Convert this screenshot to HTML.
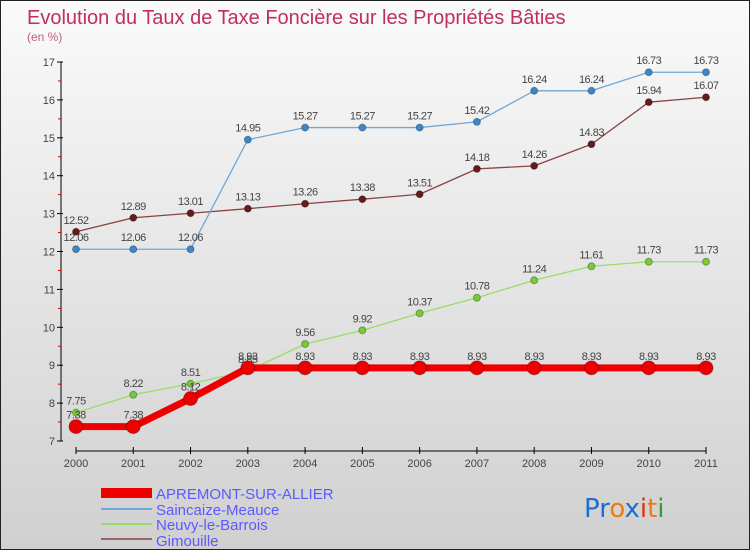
<!DOCTYPE html>
<html><head><meta charset="utf-8"><style>
body{margin:0}
#c{width:750px;height:550px;position:relative;box-sizing:border-box;border:1px solid #222;background:linear-gradient(#fafafa,#d0d0d0);font-family:"Liberation Sans",sans-serif;overflow:hidden}
</style></head><body>
<div id="c">
<svg id="s" width="750" height="550" style="position:absolute;left:0;top:0">
<text x="26" y="23" font-size="20" fill="#c0305a">Evolution du Taux de Taxe Foncière sur les Propriétés Bâties</text>
<text x="26" y="40" font-size="12" fill="#c0607a">(en %)</text>
<g id="axes"></g><g id="series"></g>
<g>
<rect x="100" y="487" width="51" height="10" fill="#e00"/>
<text x="155" y="498" font-size="15" fill="#5a5aff">APREMONT-SUR-ALLIER</text>
<line x1="100" y1="508" x2="151" y2="508" stroke="#6fa8d8" stroke-width="2"/>
<text x="155" y="514" font-size="15" fill="#5a5aff">Saincaize-Meauce</text>
<line x1="100" y1="523" x2="151" y2="523" stroke="#99dd66" stroke-width="2"/>
<text x="155" y="529" font-size="15" fill="#5a5aff">Neuvy-le-Barrois</text>
<line x1="100" y1="538" x2="151" y2="538" stroke="#996666" stroke-width="2"/>
<text x="155" y="545" font-size="15" fill="#5a5aff">Gimouille</text>
</g>
<g font-size="26" font-family="'DejaVu Sans',sans-serif">
<text x="583" y="516"><tspan fill="#1a6fd0">Pr</tspan><tspan fill="#f07a10">o</tspan><tspan fill="#1a6fd0">x</tspan><tspan fill="#e03010">i</tspan><tspan fill="#f07a10">t</tspan><tspan fill="#30a030">i</tspan></text>
</g>
</svg>
</div>
<script>
const years=[2000,2001,2002,2003,2004,2005,2006,2007,2008,2009,2010,2011];
const apremont=[7.38,7.38,8.12,8.93,8.93,8.93,8.93,8.93,8.93,8.93,8.93,8.93];
const saincaize=[12.06,12.06,12.06,14.95,15.27,15.27,15.27,15.42,16.24,16.24,16.73,16.73];
const neuvy=[7.75,8.22,8.51,8.85,9.56,9.92,10.37,10.78,11.24,11.61,11.73,11.73];
const gimouille=[12.52,12.89,13.01,13.13,13.26,13.38,13.51,14.18,14.26,14.83,15.94,16.07];
const yTicks=[7,8,9,10,11,12,13,14,15,16,17];
const NS='http://www.w3.org/2000/svg';
const X=i=>75+i*(705-75)/11;
const Y=v=>440-(v-7)*37.9;
function mk(t,a,p){const e=document.createElementNS(NS,t);for(const k in a)e.setAttribute(k,a[k]);p.appendChild(e);return e;}
const ax=document.getElementById('axes'),sg=document.getElementById('series');
mk('line',{x1:60,y1:Y(17),x2:60,y2:Y(7),stroke:'#000'},ax);
mk('line',{x1:75,y1:450,x2:705,y2:450,stroke:'#000'},ax);
yTicks.forEach(v=>{mk('line',{x1:56,y1:Y(v),x2:62,y2:Y(v),stroke:'#000'},ax);
 if(v<17)mk('line',{x1:57,y1:Y(v+0.5),x2:60,y2:Y(v+0.5),stroke:'#d00'},ax);
 const t=mk('text',{x:54,y:Y(v)+4,'font-size':11,fill:'#444','text-anchor':'end'},ax);t.textContent=v;
 
 });
years.forEach((y,i)=>{mk('line',{x1:X(i),y1:446,x2:X(i),y2:453,stroke:'#000'},ax);
 const t=mk('text',{x:X(i),y:466,'font-size':11,fill:'#444','text-anchor':'middle'},ax);t.textContent=y;
 
 });
function series(d,col,dot,w,r,name){
 const g=mk('g',{},sg);
 
 
 mk('polyline',{points:d.map((v,i)=>X(i)+','+Y(v)).join(' '),fill:'none',stroke:col,'stroke-width':w,'stroke-linejoin':'round'},g);
 d.forEach((v,i)=>{const c=mk('circle',{cx:X(i),cy:Y(v),r:r,fill:dot,stroke:'rgba(0,0,0,0.3)'},g);
  
  
  const t=mk('text',{x:X(i),y:Y(v)-8,'font-size':11,fill:'#444','text-anchor':'middle','letter-spacing':'-0.5'},g);t.textContent=v;});
}
series(gimouille,'#884444','#661a1a',1.3,3.5,'series-gimouille');
series(saincaize,'#6fa8d8','#3a88cc',1.3,3.5,'series-saincaize');
series(neuvy,'#99dd66','#77cc33',1.3,3.5,'series-neuvy');
series(apremont,'#ee0000','#ee0000',7,7,'series-apremont');
</script>
</body></html>
